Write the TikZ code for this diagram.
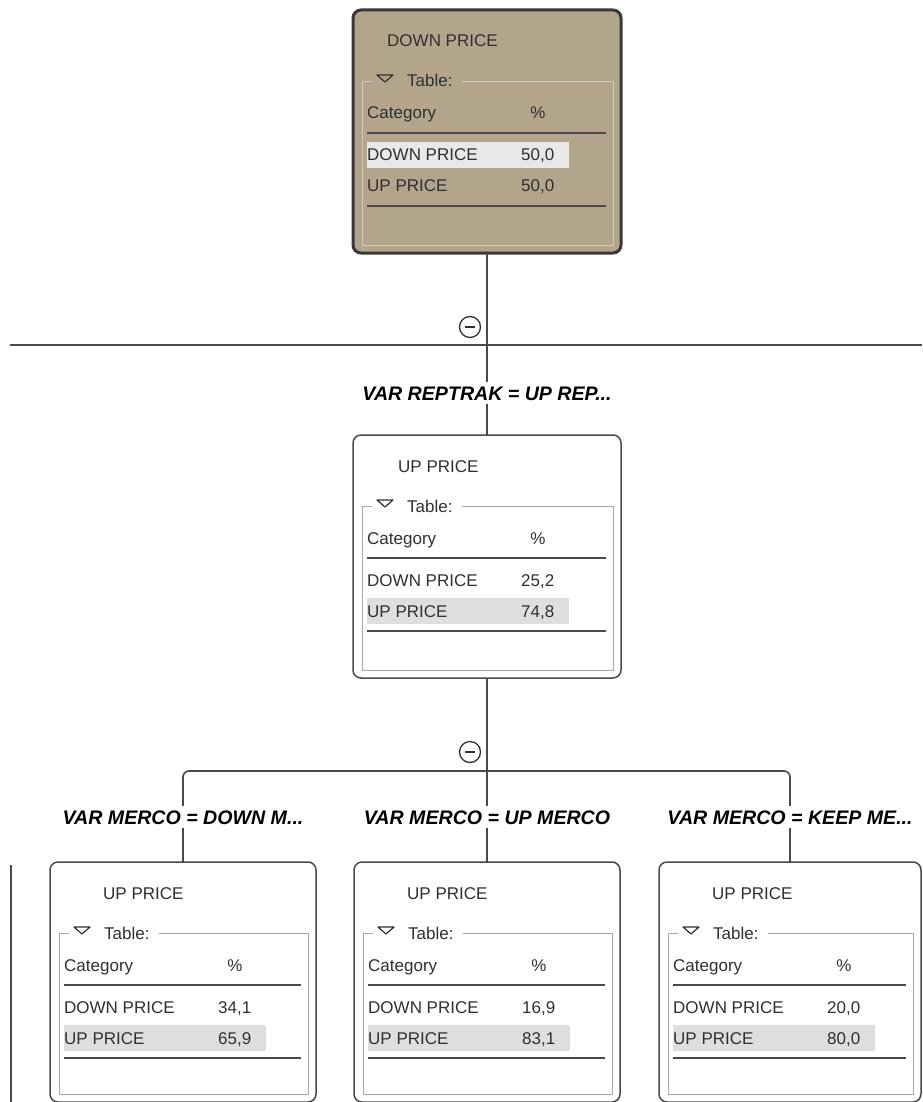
\documentclass[tikz,border=0pt]{standalone}
\usepackage{fontspec}
\setmainfont{Liberation Sans}
\definecolor{boxtan}{HTML}{B2A58C}
\definecolor{textgray}{HTML}{303030}
\definecolor{linegray}{HTML}{4A4A4A}
\definecolor{framewhite}{HTML}{A8A8A8}
\definecolor{frametan}{HTML}{D2CBBC}
\definecolor{hlwhite}{HTML}{DEDEDE}
\definecolor{hltan}{HTML}{E8E8E8}
\tikzset{
  txt/.style={font=\fontsize{17}{20}\selectfont, text=textgray, inner sep=0pt},
  lbl/.style={font=\fontsize{19.6}{23}\selectfont\bfseries\itshape, text=black,
    inner xsep=2pt, inner ysep=4pt, text height=14pt, text depth=0pt},
  tanbox/.style={draw=black!78, line width=3pt, fill=boxtan, rounded corners=8pt, outer sep=0pt},
  whitebox/.style={draw=linegray, line width=1.5pt, fill=white, rounded corners=8pt, outer sep=0pt},
  conn/.style={draw=linegray, line width=1.6pt},
  tableline/.style={draw=linegray, line width=1.6pt},
  minusnode/.style={circle, draw=textgray, line width=1.3pt, minimum size=21pt, inner sep=0pt},
}
% #1 name, #2 left, #3 top, #4 width, #5 height, #6 title, #7 down value, #8 up value, #9 highlighted row
\newcommand\probbox[9]{%
  \node[\bxstyle, minimum width=#4pt, minimum height=#5pt, anchor=north west] (#1) at (#2,#3) {};
  \begin{scope}[shift={(#2,#3)}]
    \ifnum#9=1 \def\hy{145}\else\def\hy{176}\fi
    \fill[\hlcol] (14,\hy-13) rectangle (216,\hy+13);
    \draw[\frcol, line width=0.9pt] (19,71) -- (9,71) -- (9,#5-8) -- (#4-8,#5-8) -- (#4-8,71) -- (109,71);
    \draw[textgray, line width=1.2pt, line join=round] (24,65) -- (40,65) -- (32,72) -- cycle;
    \node[txt, anchor=base west] (#1-leg) at (54,77) {Table:};
    \node[txt, anchor=base west] (#1-title) at (\tx,37) {#6};
    \node[txt, anchor=base west] (#1-cat) at (14,109) {Category};
    \node[txt, anchor=base] (#1-pct) at (185,109) {\%};
    \draw[tableline] (14,123) -- (#4-15,123);
    \node[txt, anchor=base west] (#1-r1) at (14,151) {DOWN PRICE};
    \node[txt, anchor=base west] (#1-v1) at (168,151) {#7};
    \node[txt, anchor=base west] (#1-r2) at (14,182) {UP PRICE};
    \node[txt, anchor=base west] (#1-v2) at (168,182) {#8};
    \draw[tableline] (14,196) -- (#4-15,196);
  \end{scope}
}
\begin{document}
\begin{tikzpicture}[x=1pt,y=-1pt]
\useasboundingbox[fill=white] (0,0) rectangle (922,1102);

% boxes
\def\bxstyle{tanbox}\def\hlcol{hltan}\def\frcol{frametan}\def\tx{34}
\probbox{n0}{353}{10}{268}{243}{DOWN PRICE}{50,0}{50,0}{1}
\def\bxstyle{whitebox}\def\hlcol{hlwhite}\def\frcol{framewhite}\def\tx{45}
\probbox{n1}{353}{435}{268}{243}{UP PRICE}{25,2}{74,8}{2}
\def\tx{53}
\probbox{n2}{50}{862}{266}{240}{UP PRICE}{34,1}{65,9}{2}
\probbox{n3}{354}{862}{266}{240}{UP PRICE}{16,9}{83,1}{2}
\probbox{n4}{659}{862}{262}{240}{UP PRICE}{20,0}{80,0}{2}

% helper coordinates
\coordinate (hl) at (10,345);
\coordinate (hr) at (922,345);
\coordinate (j1) at (n0.south |- hl);
\coordinate (y1) at (0,393);
\coordinate (y2) at (0,771);
\coordinate (y3) at (0,817);
\coordinate (edgeA) at (11,865);
\coordinate (edgeB) at (11,1102);

% labels
\node[lbl] (lab1) at (n1.north |- y1) {VAR REPTRAK = UP REP...};
\node[lbl] (lab2a) at (n2.north |- y3) {VAR MERCO = DOWN M...};
\node[lbl] (lab2b) at (n3.north |- y3) {VAR MERCO = UP MERCO};
\node[lbl] (lab2c) at (n4.north |- y3) {VAR MERCO = KEEP ME...};
\coordinate (ca) at (lab2a |- y2);
\coordinate (cc) at (lab2c |- y2);

% connectors
\draw[conn] (hl) -- (hr);
\draw[conn] (n0.south) -- (j1) -- (lab1.north);
\draw[conn] (lab1.south) -- (n1.north);
\draw[conn] (n1.south) -- (lab2b.north);
\draw[conn, rounded corners=6pt] (lab2a.north) -- (ca) -- (cc) -- (lab2c.north);
\draw[conn] (lab2a.south) -- (n2.north);
\draw[conn] (lab2b.south) -- (n3.north);
\draw[conn] (lab2c.south) -- (n4.north);
\draw[conn] (edgeA) -- (edgeB);

% collapse markers
\node[minusnode] (m1) at (470,327) {};
\draw[textgray, line width=1.5pt] ([xshift=-5pt]m1.center) -- ([xshift=5pt]m1.center);
\node[minusnode] (m2) at (470,752) {};
\draw[textgray, line width=1.5pt] ([xshift=-5pt]m2.center) -- ([xshift=5pt]m2.center);
\end{tikzpicture}
\end{document}
